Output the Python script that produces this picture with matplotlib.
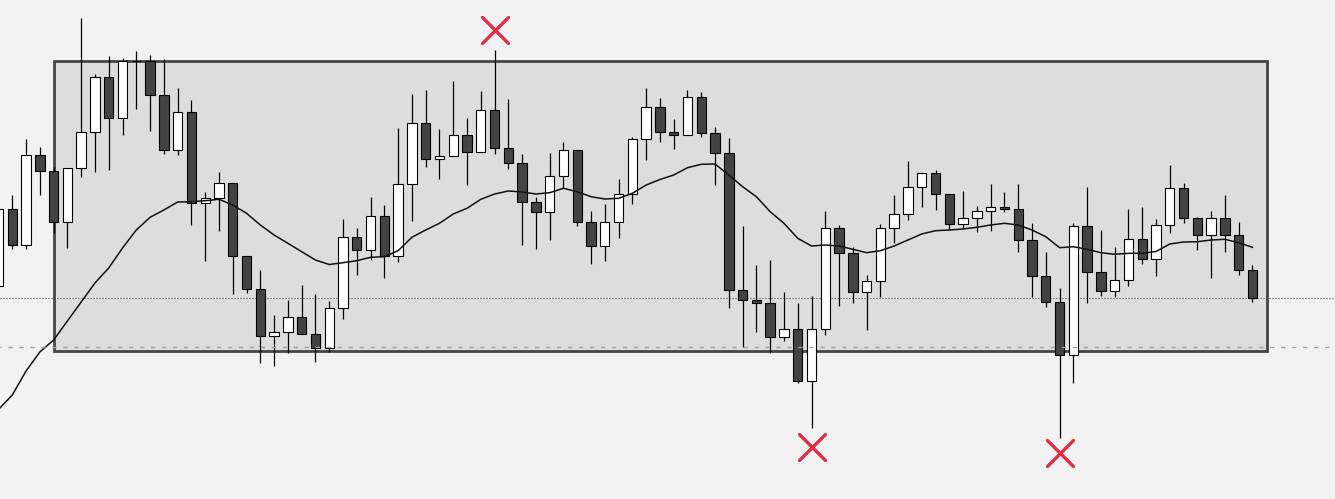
import matplotlib
matplotlib.use("Agg")
import matplotlib.pyplot as plt
from matplotlib.patches import Rectangle
from matplotlib.markers import MarkerStyle
import numpy as np

plt.rcParams['lines.scale_dashes'] = False

# OHLC series (price units)
opens = [214.0, 290.7, 254.7, 344.7, 328.7, 277.7, 331.7, 367.7, 422.7, 381.7,
         438.7, 438.7, 404.7, 349.7, 387.7, 296.7, 301.7, 316.7, 243.7, 210.7,
         163.7, 167.7, 182.7, 165.7, 151.7, 191.7, 262.7, 249.7, 283.7, 243.7,
         315.7, 376.7, 340.7, 343.7, 364.7, 347.7, 389.7, 351.7, 336.7, 297.7,
         287.7, 323.7, 349.7, 277.7, 253.7, 277.7, 305.7, 360.7, 392.7, 367.7,
         364.7, 402.7, 366.7, 346.7, 209.7, 199.7, 196.7, 162.7, 170.7, 118.7,
         170.7, 271.7, 246.7, 207.7, 218.7, 271.7, 285.7, 312.7, 326.7, 305.7,
         275.7, 281.7, 288.7, 292.7, 290.7, 259.7, 223.7, 197.7, 144.7, 273.7,
         227.7, 208.7, 219.7, 260.7, 240.7, 274.7, 311.7, 281.7, 264.7, 281.7,
         264.7, 229.7]
highs = [297.0, 305.0, 361.0, 353.0, 333.3, 331.7, 482.0, 425.7, 444.0, 441.7,
         449.0, 445.0, 441.0, 411.7, 399.7, 307.7, 328.0, 316.7, 243.7, 230.0,
         184.7, 200.0, 215.0, 206.0, 198.7, 280.7, 271.7, 302.7, 294.7, 371.7,
         405.7, 409.7, 370.7, 418.7, 381.7, 408.7, 449.7, 400.7, 345.7, 302.7,
         346.7, 357.7, 349.7, 288.7, 295.7, 320.7, 362.7, 411.7, 401.7, 380.7,
         409.7, 407.7, 372.7, 361.7, 273.7, 234.7, 239.7, 207.7, 196.7, 203.7,
         288.7, 274.7, 252.7, 224.7, 275.7, 304.7, 338.7, 326.7, 329.7, 305.7,
         308.7, 293.7, 315.7, 307.7, 315.7, 276.7, 247.7, 211.7, 276.7, 312.7,
         269.7, 252.7, 290.7, 292.7, 280.7, 334.7, 316.7, 282.7, 288.7, 304.7,
         277.7, 234.7]
lows = [208.0, 250.7, 250.7, 305.3, 267.3, 252.3, 323.3, 328.3, 330.3, 365.3,
        391.3, 369.3, 346.3, 345.3, 275.3, 239.3, 269.3, 206.3, 207.3, 137.3,
        134.3, 147.3, 165.7, 138.3, 148.3, 181.3, 225.3, 239.7, 222.3, 238.3,
        279.3, 333.3, 321.3, 343.7, 315.3, 347.7, 346.3, 331.3, 255.3, 251.3,
        260.3, 311.7, 274.3, 236.3, 239.3, 262.3, 295.7, 339.7, 357.7, 350.7,
        364.7, 363.3, 315.3, 192.3, 152.7, 168.3, 146.7, 158.7, 116.7, 71.7,
        164.7, 194.3, 197.3, 170.3, 203.3, 257.3, 280.3, 293.3, 290.3, 269.7,
        271.7, 267.7, 268.7, 287.7, 247.7, 202.7, 193.3, 62.3, 117.3, 197.3,
        204.3, 203.3, 214.3, 235.7, 224.3, 266.7, 276.7, 250.3, 222.3, 248.3,
        225.3, 197.7]
closes = [290.7, 254.7, 344.7, 328.7, 277.7, 331.7, 367.7, 422.7, 381.7, 438.7,
          438.7, 404.7, 349.7, 387.7, 296.7, 301.7, 316.7, 243.7, 210.7, 163.7,
          167.7, 182.7, 165.7, 151.7, 191.7, 262.7, 249.7, 283.7, 243.7, 315.7,
          376.7, 340.7, 343.7, 364.7, 347.7, 389.7, 351.7, 336.7, 297.7, 287.7,
          323.7, 349.7, 277.7, 253.7, 277.7, 305.7, 360.7, 392.7, 367.7, 364.7,
          402.7, 366.7, 346.7, 209.7, 199.7, 196.7, 162.7, 170.7, 118.7, 170.7,
          271.7, 246.7, 207.7, 218.7, 271.7, 285.7, 312.7, 326.7, 305.7, 275.7,
          281.7, 288.7, 292.7, 290.7, 259.7, 223.7, 197.7, 144.7, 273.7, 227.7,
          208.7, 219.7, 260.7, 240.7, 274.7, 311.7, 281.7, 264.7, 281.7, 264.7,
          229.7, 201.7]

# Moving average
ma_values = [90.5, 105.0, 129.0, 148.0, 160.0, 179.0, 198.0, 217.0, 232.0, 252.0,
             270.0, 282.7, 290.0, 298.0, 298.3, 299.3, 300.7, 295.0, 286.7, 275.0,
             265.0, 256.7, 248.3, 240.0, 235.5, 237.3, 239.3, 242.7, 243.3, 249.3,
             262.7, 270.0, 276.7, 286.0, 291.7, 300.7, 306.0, 309.0, 308.0, 306.0,
             307.3, 311.7, 308.3, 303.3, 301.0, 301.7, 306.7, 315.0, 320.5, 325.0,
             332.3, 335.7, 336.0, 325.0, 313.3, 303.3, 288.3, 276.7, 261.7, 254.0,
             255.0, 254.0, 250.7, 247.3, 249.3, 254.0, 260.0, 266.0, 269.3, 270.0,
             271.0, 272.7, 275.0, 276.7, 275.0, 270.0, 263.3, 252.3, 253.3, 250.7,
             247.3, 245.7, 246.7, 246.7, 248.5, 256.0, 258.0, 258.3, 260.0, 260.7,
             257.3, 252.7]

# Range box and horizontal levels
zone_start, zone_end = 4.0, 92.03
zone_top, zone_bottom = 439.3, 149.2
dotted_level = 202.0
dashed_level = 153.5

# Swing markers
signal_idx = [36, 59, 77]
signal_price = [470.0, 53.3, 46.7]

BG = '#f2f2f2'
fig = plt.figure(figsize=(13.35, 4.99), dpi=100, facecolor=BG)
ax = fig.add_axes([0, 0, 1, 1])
ax.set_facecolor(BG)
ax.axis('off')

idx = np.arange(len(opens))
o = np.array(opens); c = np.array(closes)
h = np.array(highs); l = np.array(lows)

ax.add_patch(Rectangle((zone_start, zone_bottom), zone_end - zone_start,
                       zone_top - zone_bottom, facecolor='#dddddd',
                       edgecolor='#454545', linewidth=2.0, zorder=1))

ax.axhline(dotted_level, color='#3a3a3a', linewidth=0.75,
           linestyle=(0, (0.72, 1.44)), zorder=2)

ax.vlines(idx, l, h, color='black', linewidth=0.9, zorder=3)
up = c > o
body_colors = np.where(up, '#ffffff', '#434343')
ax.bar(idx, np.abs(c - o), bottom=np.minimum(o, c), width=0.68,
       color=body_colors, edgecolor='black', linewidth=0.8, zorder=4)

ax.plot(idx, ma_values, color='#111111', linewidth=1.1, zorder=5)

ax.axhline(dashed_level, color='#9e9ea8', linewidth=1.0,
           linestyle=(2.2, (3.1, 4.8)), zorder=6)

mk = MarkerStyle('x', capstyle='round')
ax.plot(signal_idx, signal_price, linestyle='none', marker=mk,
        markersize=18.5, markeredgewidth=2.4, color='#e02f44', zorder=7)

ax.set_xlim(0.109, 96.99)
ax.set_ylim(1, 500)

fig.savefig('out.png', dpi=100, facecolor=BG)
